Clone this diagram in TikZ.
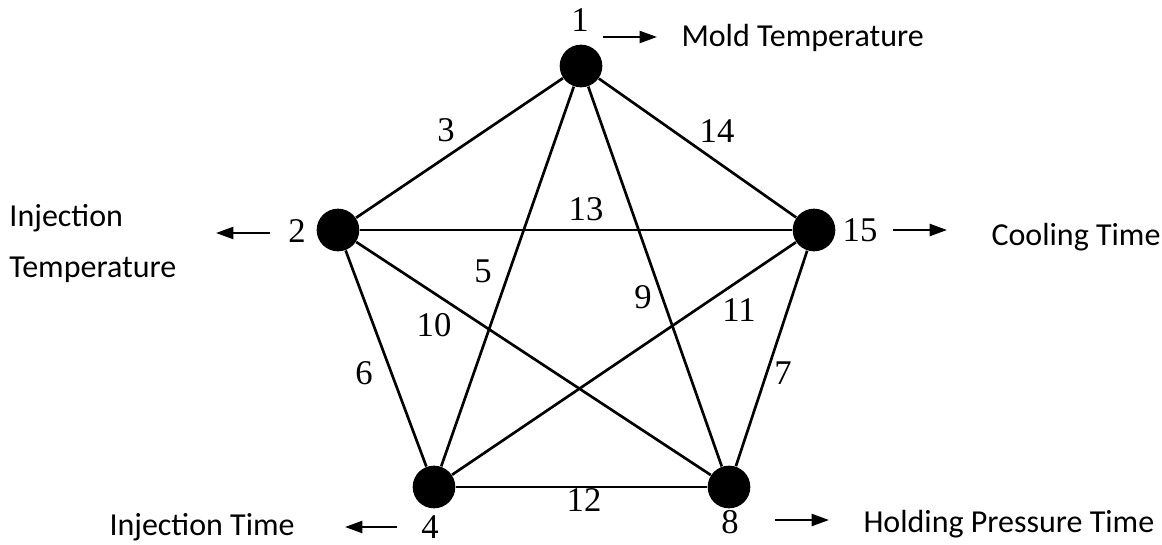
\documentclass[tikz,border=0pt]{standalone}
\usepackage{fontspec}
\setmainfont{Liberation Serif}
\newfontfamily\labelfont{Carlito}
\usetikzlibrary{arrows.meta}

\tikzset{every picture/.style={line width=0.75pt}}
\tikzset{
  vertex/.style={circle,fill=black,draw=none,minimum size=32pt,inner sep=0pt},
  edge/.style={line width=2pt},
  num/.style={font=\fontsize{26}{30}\selectfont,inner sep=0.75pt},
  paramtext/.style={font=\labelfont\fontsize{24}{29}\selectfont,inner sep=0.75pt},
  pointer/.style={line width=1.7pt,-{Triangle[length=13pt,width=9pt]}}
}

\begin{document}
\begin{tikzpicture}[x=0.75pt,y=0.75pt,yscale=-1,xscale=1]
\useasboundingbox (0,0) rectangle (1162,545);

% Vertices
\node [vertex] (v1) at (581,66) {};
\node [vertex] (v2) at (338,230) {};
\node [vertex] (v15) at (814,230) {};
\node [vertex] (v4) at (434,487) {};
\node [vertex] (v8) at (729,487) {};

% Edges
\draw [edge] (v1) -- (v2);
\draw [edge] (v1) -- (v15);
\draw [edge] (v1) -- (v4);
\draw [edge] (v1) -- (v8);
\draw [edge] (v2) -- (v15);
\draw [edge] (v2) -- (v4);
\draw [edge] (v2) -- (v8);
\draw [edge] (v15) -- (v4);
\draw [edge] (v15) -- (v8);
\draw [edge] (v4) -- (v8);

% Vertex numbers
\draw (580,32) node [num,anchor=base] (n1) {1};
\draw (297,243) node [num,anchor=base] (n2) {2};
\draw (860,242) node [num,anchor=base] (n15) {15};
\draw (430,538) node [num,anchor=base] (n4) {4};
\draw (730,533) node [num,anchor=base] (n8) {8};

% Edge numbers
\draw (446,130) node [num] (e3) {3};
\draw (717,131) node [num] (e14) {14};
\draw (586,209) node [num] (e13) {13};
\draw (483,271) node [num] (e5) {5};
\draw (643,297) node [num] (e9) {9};
\draw (739,310) node [num] (e11) {11};
\draw (434,325) node [num] (e10) {10};
\draw (364,373) node [num] (e6) {6};
\draw (783,373) node [num] (e7) {7};
\draw (584,500) node [num] (e12) {12};

% Text Node
\draw (680,47) node [paramtext,anchor=base west] (t1) {Mold Temperature};
% Text Node
\draw (8,227) node [paramtext,anchor=base west] (t2a) {Injection};
% Text Node
\draw (8,277) node [paramtext,anchor=base west] (t2b) {Temperature};
% Text Node
\draw (990,245) node [paramtext,anchor=base west] (t15) {Cooling Time};
% Text Node
\draw (108,535) node [paramtext,anchor=base west] (t4) {Injection Time};
% Text Node
\draw (862,532) node [paramtext,anchor=base west] (t8) {Holding Pressure Time};

% Pointers
\coordinate (p1a) at (603,37);  \coordinate (p1b) at (657,37);
\coordinate (p2a) at (270,233); \coordinate (p2b) at (216,233);
\coordinate (p15a) at (893,230); \coordinate (p15b) at (947,230);
\coordinate (p4a) at (397,527); \coordinate (p4b) at (345,527);
\coordinate (p8a) at (775,520); \coordinate (p8b) at (829,520);
\draw [pointer] (p1a) -- (p1b);
\draw [pointer] (p2a) -- (p2b);
\draw [pointer] (p15a) -- (p15b);
\draw [pointer] (p4a) -- (p4b);
\draw [pointer] (p8a) -- (p8b);

\end{tikzpicture}
\end{document}
